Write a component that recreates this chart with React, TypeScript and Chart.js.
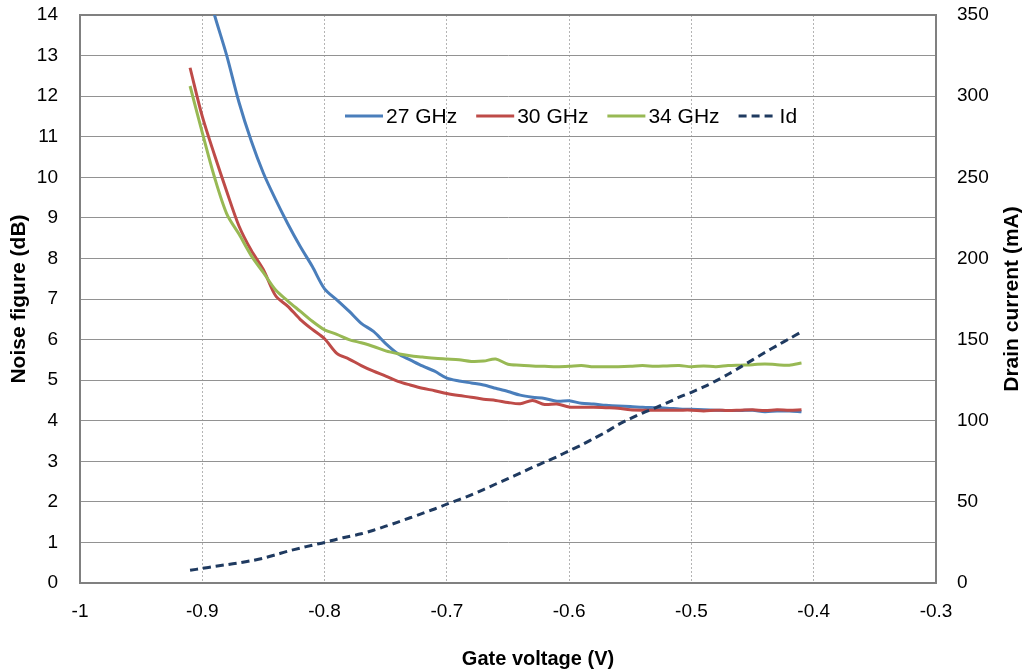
import React, { useEffect, useRef } from "react";
import { Chart, registerables } from "chart.js";

Chart.register(...registerables);

// Gate voltage (V), one sample every 10 mV
const gateVoltage = [
  -0.91, -0.9, -0.89, -0.88, -0.87, -0.86, -0.85, -0.84, -0.83, -0.82,
  -0.81, -0.8, -0.79, -0.78, -0.77, -0.76, -0.75, -0.74, -0.73, -0.72,
  -0.71, -0.7, -0.69, -0.68, -0.67, -0.66, -0.65, -0.64, -0.63, -0.62,
  -0.61, -0.6, -0.59, -0.58, -0.57, -0.56, -0.55, -0.54, -0.53, -0.52,
  -0.51, -0.5, -0.49, -0.48, -0.47, -0.46, -0.45, -0.44, -0.43, -0.42,
  -0.41,
];

// Noise figure (dB)
const nf27GHz = [
  16.3, 15.1, 14.0, 13.0, 11.85, 10.9, 10.1, 9.45, 8.85, 8.3,
  7.8, 7.25, 6.98, 6.7, 6.4, 6.2, 5.9, 5.65, 5.5, 5.35,
  5.22, 5.05, 4.98, 4.93, 4.88, 4.8, 4.72, 4.63, 4.58, 4.55,
  4.48, 4.49, 4.43, 4.41, 4.38, 4.36, 4.35, 4.33, 4.32, 4.31,
  4.29, 4.28, 4.27, 4.26, 4.25, 4.25, 4.26, 4.22, 4.24, 4.24,
  4.22,
];
const nf30GHz = [
  12.7, 11.5, 10.55, 9.65, 8.8, 8.2, 7.72, 7.08, 6.82, 6.5,
  6.25, 6.02, 5.66, 5.52, 5.36, 5.22, 5.1, 4.97, 4.88, 4.8,
  4.74, 4.67, 4.62, 4.58, 4.53, 4.5, 4.45, 4.42, 4.5, 4.4,
  4.41, 4.34, 4.33, 4.33, 4.32, 4.31, 4.27, 4.26, 4.26, 4.26,
  4.26, 4.26, 4.24, 4.26, 4.25, 4.26, 4.27, 4.25, 4.27, 4.26,
  4.27,
];
const nf34GHz = [
  12.25, 11.1, 10.0, 9.1, 8.6, 8.07, 7.65, 7.22, 6.95, 6.7,
  6.45, 6.24, 6.13, 6.0, 5.92, 5.83, 5.72, 5.65, 5.6, 5.57,
  5.54, 5.52, 5.5, 5.46, 5.47, 5.52, 5.39, 5.37, 5.35, 5.34,
  5.33, 5.34, 5.36, 5.33, 5.33, 5.33, 5.34, 5.36, 5.34, 5.35,
  5.36, 5.33, 5.35, 5.33, 5.36, 5.37, 5.38, 5.4, 5.38, 5.37,
  5.42,
];
// Drain current (mA)
const drainCurrent = [
  7.8, 9.0, 10.2, 11.3, 12.4, 13.7, 15.3, 17.4, 19.6, 21.5,
  23.3, 25.0, 27.0, 28.7, 30.3, 32.5, 35.0, 37.5, 40.2, 42.9,
  45.6, 48.6, 51.4, 54.3, 57.6, 61.0, 64.3, 67.7, 71.2, 74.5,
  77.8, 81.5, 85.0, 89.0, 93.0, 97.5, 101.3, 104.7, 107.8, 111.0,
  114.5, 117.5, 120.8, 124.5, 128.6, 133.0, 137.5, 142.0, 146.3, 150.5,
  154.8,
];

const seriesNames = ["27 GHz", "30 GHz", "34 GHz", "Id"];
const xTitle = "Gate voltage (V)";
const yLeftTitle = "Noise figure (dB)";
const yRightTitle = "Drain current (mA)";

const FONT = '"Liberation Sans", Arial, Helvetica, sans-serif';

const pts = (ys: number[]) => gateVoltage.map((x, i) => ({ x, y: ys[i] }));

const zeroPad = (s: any) => {
  s.paddingTop = 0;
  s.paddingBottom = 0;
  s.paddingLeft = 0;
  s.paddingRight = 0;
};

const framePlugin = {
  id: "frame",
  beforeDatasetsDraw(chart: any) {
    const { ctx, chartArea: a } = chart;
    ctx.save();
    ctx.strokeStyle = "#808080";
    ctx.lineWidth = 2;
    ctx.strokeRect(a.left, a.top, a.right - a.left, a.bottom - a.top);
    ctx.restore();
  },
};

const legendPlugin = {
  id: "inlineLegend",
  afterDatasetsDraw(chart: any) {
    const { ctx, chartArea: a } = chart;
    const y = a.top + 101;
    let x = a.left + 265;
    ctx.save();
    ctx.font = `21px ${FONT}`;
    ctx.textBaseline = "middle";
    ctx.textAlign = "left";
    seriesNames.forEach((name, i) => {
      const ds = chart.data.datasets[i];
      ctx.beginPath();
      ctx.setLineDash(ds.borderDash || []);
      ctx.strokeStyle = ds.borderColor;
      ctx.lineWidth = 3;
      ctx.moveTo(x, y);
      ctx.lineTo(x + 38, y);
      ctx.stroke();
      ctx.setLineDash([]);
      x += 41;
      ctx.fillStyle = "#000";
      ctx.fillText(name, x, y + 1);
      x += ctx.measureText(name).width + 19;
    });
    ctx.restore();
  },
};

const titlesPlugin = {
  id: "extraTitles",
  afterDraw(chart: any) {
    const { ctx, chartArea: a } = chart;
    ctx.save();
    ctx.fillStyle = "#000";
    ctx.textAlign = "center";
    ctx.textBaseline = "middle";
    // x-axis title (offset to the right, as in the original)
    ctx.font = `bold 20px ${FONT}`;
    ctx.fillText(xTitle, a.left + 458, 659);
    // right-axis title, reading bottom to top
    ctx.translate(1012, (a.top + a.bottom) / 2);
    ctx.rotate(-Math.PI / 2);
    ctx.font = `bold 21px ${FONT}`;
    ctx.fillText(yRightTitle, 0, 0);
    ctx.restore();
  },
};

export default function App() {
  const ref = useRef<HTMLCanvasElement | null>(null);

  useEffect(() => {
    if (!ref.current) return;
    Chart.defaults.font.family = FONT;
    const colors = ["#4A7EBB", "#BE4B48", "#98B954", "#1F3A60"];
    const chart = new Chart(ref.current, {
      type: "line",
      data: {
        datasets: [
          { label: seriesNames[0], data: pts(nf27GHz), borderColor: colors[0], yAxisID: "y", order: 4 },
          { label: seriesNames[1], data: pts(nf30GHz), borderColor: colors[1], yAxisID: "y", order: 3 },
          { label: seriesNames[2], data: pts(nf34GHz), borderColor: colors[2], yAxisID: "y", order: 2 },
          {
            label: seriesNames[3],
            data: pts(drainCurrent),
            borderColor: colors[3],
            borderDash: [8, 5],
            yAxisID: "y1",
            order: 1,
          },
        ].map((d) => ({
          ...d,
          borderWidth: 3,
          pointRadius: 0,
          tension: 0.3,
          fill: false,
          backgroundColor: d.borderColor,
        })) as any,
      },
      options: {
        animation: false,
        responsive: true,
        maintainAspectRatio: false,
        devicePixelRatio: 1,
        layout: { padding: { top: 15, left: 0, right: 0, bottom: 0 } },
        plugins: {
          legend: { display: false },
          tooltip: { enabled: false },
        },
        scales: {
          x: {
            type: "linear",
            min: -1,
            max: -0.3,
            ticks: {
              stepSize: 0.1,
              autoSkip: false,
              maxRotation: 0,
              padding: 17,
              color: "#000",
              font: { size: 19 },
              callback: (v: any) => String(Math.round(Number(v) * 10) / 10),
            },
            grid: { color: "#b4b4b4", lineWidth: 1, drawTicks: false },
            border: { display: true, color: "#808080", width: 2, dash: [2, 2] },
            title: { display: false },
            afterFit: (s: any) => {
              s.height = 89;
              zeroPad(s);
            },
          },
          y: {
            type: "linear",
            position: "left",
            min: 0,
            max: 14,
            ticks: { stepSize: 1, padding: 22, color: "#000", font: { size: 19 } },
            grid: { color: "#929292", lineWidth: 1, drawTicks: false },
            border: { display: true, color: "#808080", width: 2 },
            title: {
              display: true,
              text: yLeftTitle,
              color: "#000",
              font: { size: 21, weight: "bold" },
              padding: { top: 7, bottom: 0 },
            },
            afterFit: (s: any) => {
              s.width = 80;
              zeroPad(s);
            },
          },
          y1: {
            type: "linear",
            position: "right",
            min: 0,
            max: 350,
            ticks: { stepSize: 50, padding: 21, color: "#000", font: { size: 19 } },
            grid: { drawOnChartArea: false, drawTicks: false },
            border: { display: true, color: "#808080", width: 2 },
            title: { display: false },
            afterFit: (s: any) => {
              s.width = 87;
              zeroPad(s);
            },
          },
        },
      } as any,
      plugins: [framePlugin, legendPlugin, titlesPlugin],
    });
    return () => chart.destroy();
  }, []);

  return (
    <div style={{ position: "absolute", left: 0, top: 0, width: 1023, height: 672, background: "#fff" }}>
      <canvas ref={ref} />
    </div>
  );
}
